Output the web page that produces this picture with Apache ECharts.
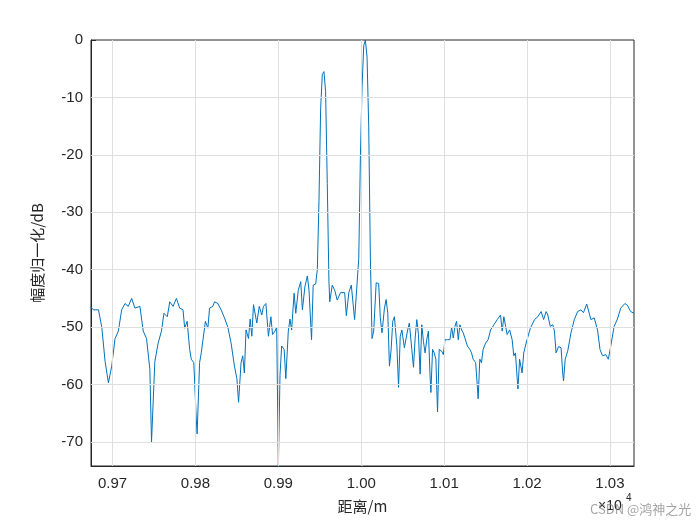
<!DOCTYPE html>
<html><head><meta charset="utf-8">
<script src="https://cdn.jsdelivr.net/npm/echarts@6/dist/echarts.min.js"></script>
<style>html,body{margin:0;padding:0;background:#fff}#c{width:700px;height:525px}</style>
</head><body><div id="c"></div>
<script>
const distance = [9673,9677,9683,9687,9691,9695,9699,9703,9707,9711,9715,9719,9723,9727,9733,9737,9741,9745,9747,9751,9755,9759,9762,9766,9769,9773,9777,9781,9785,9787,9790,9793,9795,9798,9801,9802,9805,9807,9812,9815,9817,9821,9823,9827,9831,9835,9839,9843,9847,9850,9852,9855,9857,9859,9861,9864,9866,9868,9870,9874,9877,9880,9882,9885,9888,9891,9893,9896,9898,9900,9902,9904,9907,9909,9912,9914,9916,9919,9921,9924,9927,9929,9932,9935,9937,9940,9942,9945,
9947,9949,9951,9953,9955,9957,9959,9961,
9962,9965,9968,9971,9975,9980,9982,9985,9988,9992,9994,
9997,9999,10001,10003,10005,10007,10009,10011,
10013,10015,10018,10021,10023,10025,10028,10030,10032,10034,10036,10038,10040,10043,10045,10047,10049,10052,10054,10056,10058,10061,10063,10065,10067,10069,10071,10073,10075,10077,10079,10081,10083,10084,10086,10088,10090,10092,10094,10097,10099,10101,10104,10107,10109,10111,10113,10115,10117,10119,10121,10123,10125,10128,10131,10133,10135,10138,10140,10141,10143,10145,10147,10150,10153,10156,10160,10164,10168,10170,10172,10174,10176,10179,10182,10184,10186,10188,10189,10191,10194,10196,10198,10200,10204,10209,10213,10217,10220,10223,10225,10228,10231,10233,10235,10238,10241,10243,10244,10246,10249,10253,10257,10261,10265,10268,10272,10275,10277,10281,10285,10288,10291,10295,10298,10301,10305,10309,10313,10318,10321,10325,10329];
const amplitude = [-46.4,-47,-47,-50,-56,-59.7,-56.8,-52,-50.7,-47,-45.9,-46.4,-45,-46.7,-46.4,-50.7,-52,-57.4,-70,-56,-52.8,-50.7,-47.6,-48.2,-45.6,-46.4,-45,-46.7,-47,-50.2,-49,-53.9,-55.6,-56.2,-66,-68.6,-56.2,-54.5,-49,-50.2,-46.7,-46.4,-45.6,-45.9,-47,-48.4,-50,-52.8,-56.8,-59,-63.1,-56.2,-55,-58,-50.5,-52,-48.6,-51.6,-46.1,-49.3,-46.4,-47.9,-46.4,-45.9,-51.6,-48.2,-51.3,-50.7,-50,-74.5,-58.4,-53.3,-53.9,-59,-50.7,-48.6,-50.5,-44.1,-47.6,-43.6,-42.1,-47,-43,-41.1,-43.6,-52.2,-42.7,-42.5,
-40,-28,-12,-6,-5.5,-9,-25,-42,
-45.6,-42.7,-43.6,-45.3,-44,-44,-48,-44,-42.7,-48.7,-48.5,
-38,-20,-8,-1,0,-3,-15,-38,
-52,-50.7,-42.3,-42.4,-48.4,-51,-46.7,-45.2,-47.6,-56.8,-54,-49,-48.2,-53.3,-60.5,-51.6,-50.5,-53.6,-53.9,-50.5,-49.3,-53.9,-57,-51.9,-48.7,-51.3,-58.2,-49.6,-52.5,-54.5,-52.2,-50.7,-58.5,-61.4,-53.9,-54.5,-55.6,-64.8,-53.9,-54.2,-54.8,-52.2,-52.2,-52.2,-50,-51.9,-49.9,-49,-52.2,-49.6,-50.5,-51,-51.9,-53.3,-53.9,-54.5,-55.6,-56.2,-60.3,-62.5,-55.6,-56.2,-53.9,-52.8,-52.2,-50.5,-49.6,-48.7,-47.9,-50.7,-48.2,-48.4,-51.3,-50.5,-52.2,-55,-54.5,-58.8,-60.8,-55.6,-58,-54.5,-53.3,-52.2,-50.2,-48.7,-48.2,-47.3,-48.7,-47.3,-47.9,-49.9,-49.6,-50.7,-54.5,-53.4,-53.6,-58,-59.4,-55.6,-54.2,-51,-48.7,-47.3,-47,-47.5,-46,-47.6,-48.7,-48.4,-50.5,-53.9,-55,-54.8,-55.6,-53.3,-49.9,-48.6,-46.7,-45.9,-46.2,-47.3,-47.6];
const xTicks = [9700,9800,9900,10000,10100,10200,10300];
const yTicks = [0,-10,-20,-30,-40,-50,-60,-70];
const xLabel = '距离/m', yLabel = '幅度归一化/dB';

const chart = echarts.init(document.getElementById('c'));
const ax = '#262626', gl = '#dfdfdf', font = 'Liberation Sans, Arial, sans-serif';
chart.setOption({
  animation:false,
  grid:{left:91,right:66,top:40,bottom:59,show:true,borderColor:ax,borderWidth:1},
  xAxis:{type:'value',min:9674,max:10329,
    axisLine:{onZero:false,lineStyle:{color:ax}},
    axisTick:{show:true,inside:true,length:5,customValues:xTicks,lineStyle:{color:ax}},
    axisLabel:{customValues:xTicks,color:ax,fontSize:15,fontFamily:font,margin:10,formatter:v=>(v/1e4).toFixed(2)},
    splitLine:{show:false},
    name:xLabel,nameLocation:'middle',nameGap:33,nameTextStyle:{color:ax,fontSize:15,fontFamily:'Noto Sans CJK SC'}},
  yAxis:{type:'value',min:-74.2,max:0,
    axisLine:{lineStyle:{color:ax}},
    axisTick:{show:true,inside:true,length:5,customValues:yTicks,lineStyle:{color:ax}},
    axisLabel:{customValues:yTicks,color:ax,fontSize:15,fontFamily:font,margin:8},
    splitLine:{show:false},
    name:yLabel,nameLocation:'middle',nameGap:46,nameTextStyle:{color:ax,fontSize:15,fontFamily:'Noto Sans CJK SC'}},
  series:[
    {type:'line',data:distance.map((x,i)=>[x,amplitude[i]]),showSymbol:false,
     lineStyle:{color:'#0072BD',width:1},z:2,
     markLine:{silent:true,symbol:'none',label:{show:false},lineStyle:{color:gl,type:'solid',width:1},
       data:xTicks.map(v=>({xAxis:v})).concat(yTicks.filter(v=>v<0).map(v=>({yAxis:v})))}}
  ],
  graphic:[
    {type:'text',left:598,top:499,style:{text:'×10',fill:ax,fontSize:14,fontFamily:font}},
    {type:'text',left:626,top:493,style:{text:'4',fill:ax,fontSize:10,fontFamily:font}},
    {type:'text',left:590,top:503,style:{text:'CSDN @鸿神之光',fill:'rgba(140,140,140,0.8)',fontSize:13,fontFamily:'Noto Sans CJK SC'}}
  ]
});
</script></body></html>
